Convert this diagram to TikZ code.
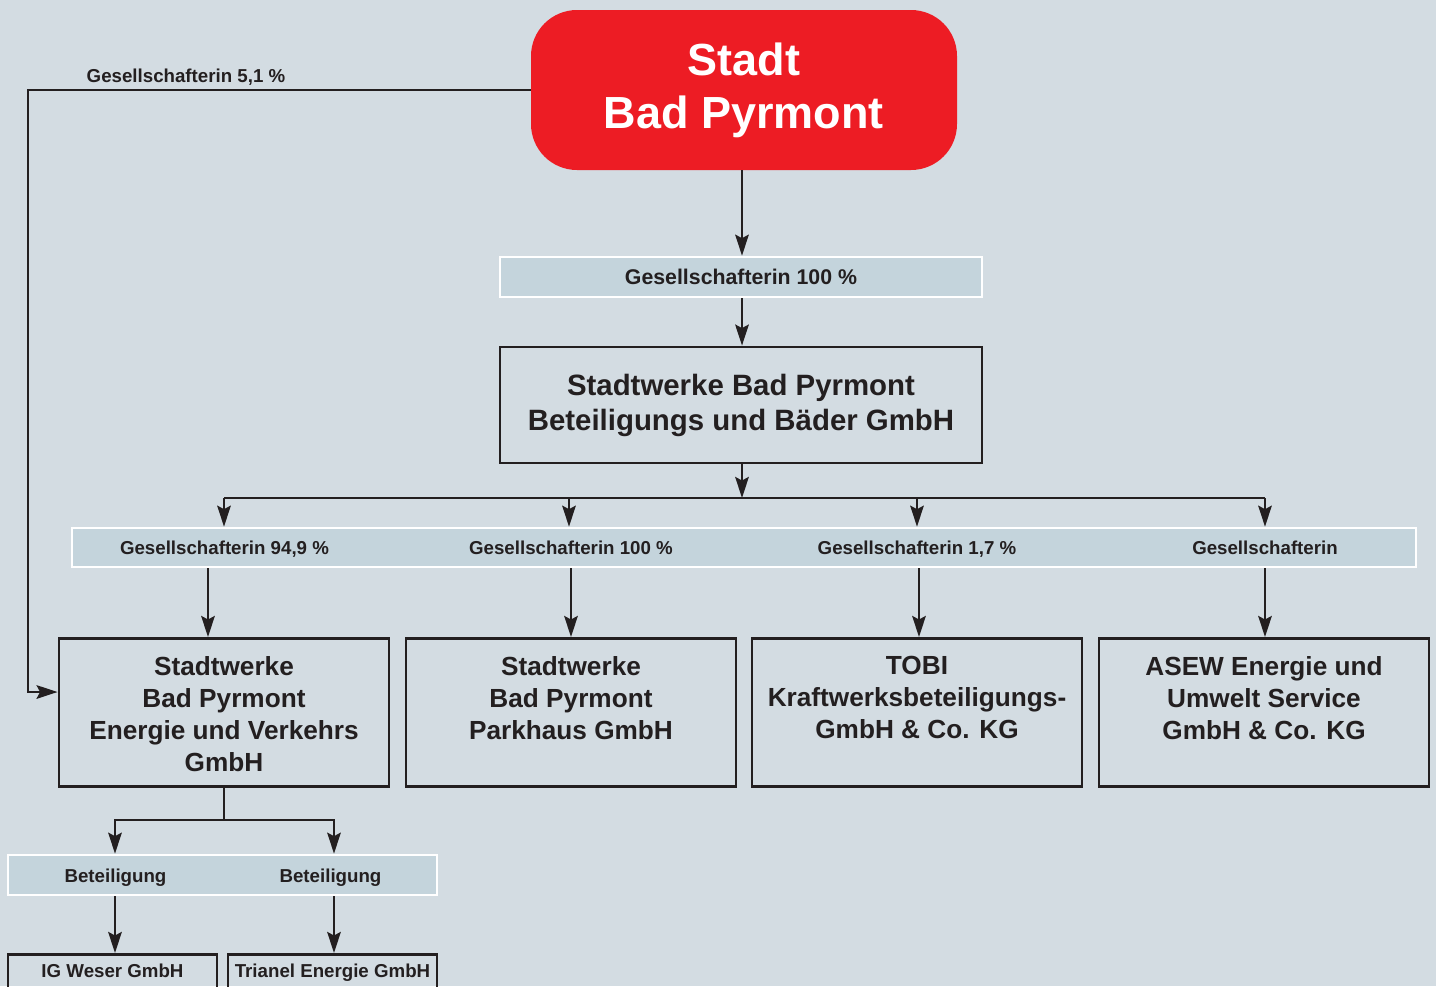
\documentclass[tikz,border=0pt]{standalone}
\usepackage{fontspec}
\setmainfont{Liberation Sans}
\usetikzlibrary{arrows.meta,calc}
\definecolor{bg}{HTML}{D3DCE2}
\definecolor{bandc}{HTML}{C4D4DC}
\definecolor{redc}{HTML}{ED1C24}
\definecolor{ink}{HTML}{231F20}
\begin{document}
\begin{tikzpicture}[x=1pt,y=-1pt,
  conn/.style={draw=ink, line width=2.6pt},
  arr/.style={conn, -{Stealth[length=21pt,width=13.5pt,inset=3.5pt]}},
  band/.style={draw=white, line width=2.6pt, fill=bandc, inner sep=0pt},
  boxframe/.style={draw=ink, line width=2.8pt, inner sep=0pt, anchor=north},
  boxtext/.style={inner sep=0pt, anchor=north, align=center, text=ink, font=\bfseries\fontsize{26.2}{32}\selectfont},
  smalltext/.style={inner sep=0pt, anchor=base, text=ink, font=\bfseries\fontsize{18.7}{22}\selectfont},
  bandtext/.style={inner sep=0pt, anchor=base, text=ink, font=\bfseries\fontsize{21.3}{25}\selectfont}
]
\useasboundingbox[fill=bg] (0,0) rectangle (1436,986);

% top red box
\node[fill=redc, rounded corners=46pt, minimum width=426pt, minimum height=160pt, inner sep=0pt,
  text=white, align=center, font=\bfseries\fontsize{45}{53}\selectfont] (stadt) at (744,90) {Stadt\\Bad Pyrmont};

% band 1
\node[band, minimum width=482pt, minimum height=40pt] (band1) at (741,277) {};
\node[bandtext] (b1t) at (741,284.6) {Gesellschafterin 100 \%};

% box 2
\node[draw=ink, line width=2.8pt, minimum width=482pt, minimum height=116pt, inner sep=0pt, align=center,
  text=ink, font=\bfseries\fontsize{29.4}{35}\selectfont] (sw) at (741,405)
  {Stadtwerke Bad Pyrmont\\Beteiligungs und Bäder GmbH};

% band 2
\node[band, minimum width=1344pt, minimum height=39pt] (band2) at (744,547.5) {};
\node[smalltext] (l1) at (224.5,554.2) {Gesellschafterin 94,9 \%};
\node[smalltext] (l2) at (571,554.2) {Gesellschafterin 100 \%};
\node[smalltext] (l3) at (917,554.2) {Gesellschafterin 1,7 \%};
\node[smalltext] (l4) at (1265,554.2) {Gesellschafterin};

% row 3 boxes
\node[boxframe, minimum width=330pt, minimum height=148pt] (bA) at (224,637) {};
\node[boxtext] (tA) at ($(bA.north)+(0,19)$) {Stadtwerke\\Bad Pyrmont\\Energie und Verkehrs\\GmbH};
\node[boxframe, minimum width=330pt, minimum height=148pt] (bB) at (571,637) {};
\node[boxtext] (tB) at ($(bB.north)+(0,19)$) {Stadtwerke\\Bad Pyrmont\\Parkhaus GmbH};
\node[boxframe, minimum width=330pt, minimum height=148pt] (bC) at (917,637) {};
\node[boxtext] (tC) at ($(bC.north)+(0,19)$) {TOBI\\Kraftwerksbeteiligungs-\\GmbH \& Co. KG};
\node[boxframe, minimum width=330pt, minimum height=148pt] (bD) at (1264,637) {};
\node[boxtext] (tD) at ($(bD.north)+(0,19)$) {ASEW Energie und\\Umwelt Service\\GmbH \& Co. KG};

% band 3
\node[band, minimum width=429pt, minimum height=40pt] (band3) at (222.5,875) {};
\node[smalltext] (l5) at (115.5,882.7) {Beteiligung};
\node[smalltext] (l6) at (330.5,882.7) {Beteiligung};

% bottom boxes
\node[boxframe, minimum width=209pt, minimum height=60pt] (bIG) at (112.5,953) {};
\node[smalltext] (tIG) at ($(bIG.north)+(0,24.7)$) {IG Weser GmbH};
\node[boxframe, minimum width=209pt, minimum height=60pt] (bTR) at (332.5,953) {};
\node[smalltext] (tTR) at ($(bTR.north)+(0,24.7)$) {Trianel Energie GmbH};

% top-left label
\node[smalltext] (l0) at (186,82.7) {Gesellschafterin 5,1 \%};

% coordinates
\coordinate (bar2) at (742,498);
\coordinate (barL) at (224,498);
\coordinate (barR) at (1265,498);
\coordinate (leftTop) at (28,90);
\coordinate (leftBot) at (28,692);
\coordinate (bar3) at (224,820);
\coordinate (bar3L) at (115,820);
\coordinate (bar3R) at (334,820);

% connectors
\draw[arr] (stadt.south -| 742,0) -- (band1.north -| 742,0);
\draw[arr] (band1.south -| 742,0) -- (sw.north -| 742,0);
\draw[arr] (sw.south -| 742,0) -- (bar2);
\draw[arr] (barL) -- (band2.north -| barL);
\draw[arr] (barR) -- (band2.north -| barR);
\draw[conn] (barL) -- (barR);
\draw[arr] (569,498) -- (band2.north -| 569,0);
\draw[arr] (917,498) -- (band2.north -| 917,0);

\draw[arr] (band2.south -| 208,0) -- (bA.north -| 208,0);
\draw[arr] (band2.south -| 571,0) -- (bB.north -| 571,0);
\draw[arr] (band2.south -| 919,0) -- (bC.north -| 919,0);
\draw[arr] (band2.south -| 1265,0) -- (bD.north -| 1265,0);

\draw[arr] (stadt.west |- leftTop) -- (leftTop) -- (leftBot) -- (bA.west |- leftBot);

\draw[conn] (bA.south) -- (bar3);
\draw[arr] (bar3) -- (bar3L) -- (band3.north -| bar3L);
\draw[arr] (bar3) -- (bar3R) -- (band3.north -| bar3R);
\draw[arr] (band3.south -| bar3L) -- (bIG.north -| bar3L);
\draw[arr] (band3.south -| bar3R) -- (bTR.north -| bar3R);
\end{tikzpicture}
\end{document}
